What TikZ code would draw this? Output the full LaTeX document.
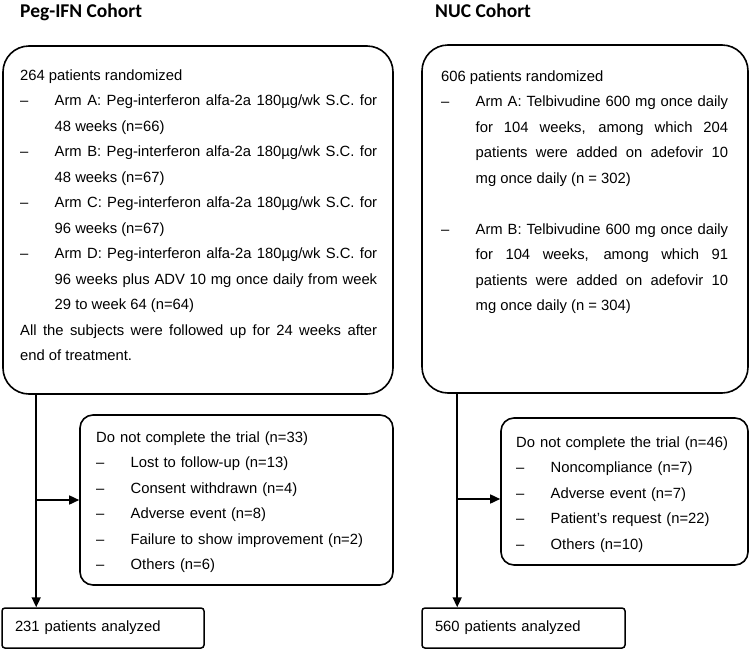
\documentclass[tikz,border=0pt]{standalone}
\usepackage{fontspec}
\setmainfont{Liberation Sans}
\newfontfamily\titlefont{Carlito}
\usetikzlibrary{arrows.meta, positioning}

\newcommand{\bodyfont}{\fontsize{14.8pt}{25.5pt}\selectfont\hyphenpenalty=10000\exhyphenpenalty=10000\tolerance=9999}
\newcommand{\dashitem}[1]{\par\hangindent=34.5pt\hangafter=1\noindent\makebox[34.5pt][l]{–}#1\par}

\begin{document}
\begin{tikzpicture}[
    x=1pt, y=-1pt,
    bigbox/.style={
        rectangle, rounded corners=26pt,
        draw=black, line width=1.6pt,
        minimum height=348pt
    },
    dropbox/.style={
        rectangle, rounded corners=13pt,
        draw=black, line width=1.6pt
    },
    anabox/.style={
        rectangle, rounded corners=3pt,
        draw=black, line width=1.5pt,
        minimum height=40pt, inner xsep=13pt,
        align=left, font=\bodyfont
    },
    bodytext/.style={inner sep=0pt, outer sep=0pt, align=justify, font=\bodyfont},
    droptext/.style={inner sep=0pt, outer sep=0pt, align=left, font=\bodyfont},
    cohort/.style={anchor=base west, inner sep=0pt, font=\titlefont\bfseries\fontsize{19.5pt}{23pt}\selectfont},
    arr/.style={
        -{Triangle[length=10pt,width=9pt]},
        line width=1.6pt
    },
]

\useasboundingbox (0,0) rectangle (750,651);

% TITLES
\node[cohort] (pegtitle) at (20,17) {Peg-IFN Cohort};
\node[cohort] (nuctitle) at (435,17) {NUC Cohort};

% RANDOMIZED
\node[bigbox, minimum width=390pt] (pegrand) at (198,220) {};
\node[bigbox, minimum width=326pt] (nucrand) at (585,219) {};

\node[bodytext, text width=357pt, below right=17.15pt and 18pt of pegrand.north west] (pegrand-txt) {%
\noindent\strut 264 patients randomized
\dashitem{Arm A: Peg-interferon alfa-2a 180µg/wk S.C. for\linebreak 48 weeks (n=66)}
\dashitem{Arm B: Peg-interferon alfa-2a 180µg/wk S.C. for\linebreak 48 weeks (n=67)}
\dashitem{Arm C: Peg-interferon alfa-2a 180µg/wk S.C. for\linebreak 96 weeks (n=67)}
\dashitem{Arm D: Peg-interferon alfa-2a 180µg/wk S.C. for\linebreak 96 weeks plus ADV 10 mg once daily from week\linebreak 29 to week 64 (n=64)}
\par\noindent All the subjects were followed up for 24 weeks after\linebreak end of treatment.};

\node[bodytext, text width=287pt, below right=19.15pt and 20pt of nucrand.north west] (nucrand-txt) {%
\noindent\strut 606 patients randomized
\dashitem{Arm A: Telbivudine 600 mg once daily\linebreak for 104 weeks, among which 204\linebreak patients were added on adefovir 10\linebreak mg once daily (n = 302)}
\noindent\strut
\dashitem{Arm B: Telbivudine 600 mg once daily\linebreak for 104 weeks, among which 91\linebreak patients were added on adefovir 10\linebreak mg once daily (n = 304)}};

% DROP-OUTS
\node[dropbox, minimum width=313pt, minimum height=170pt] (pegdrop) at (236.5,500) {};
\node[dropbox, minimum width=247pt, minimum height=147pt] (nucdrop) at (624.5,491.5) {};

\node[droptext, text width=280pt, below right=10.15pt and 17pt of pegdrop.north west] (pegdrop-txt) {%
\noindent\strut Do not complete the trial (n=33)
\dashitem{Lost to follow-up (n=13)}
\dashitem{Consent withdrawn (n=4)}
\dashitem{Adverse event (n=8)}
\dashitem{Failure to show improvement (n=2)}
\dashitem{Others (n=6)}};

\node[droptext, text width=225pt, below right=12.15pt and 16pt of nucdrop.north west] (nucdrop-txt) {%
\noindent\strut Do not complete the trial (n=46)
\dashitem{Noncompliance (n=7)}
\dashitem{Adverse event (n=7)}
\dashitem{Patient's request (n=22)}
\dashitem{Others (n=10)}};

% ANALYZED
\node[anabox, text width=176pt] (peganal) at (103,628) {231 patients analyzed};
\node[anabox, text width=177pt] (nucanal) at (523.5,628) {560 patients analyzed};

% Connectors
\coordinate (pegstem) at ([xshift=34pt]pegrand.south west);
\coordinate (nucstem) at ([xshift=36pt]nucrand.south west);
\coordinate (nucin) at ([yshift=-7.5pt]nucdrop.west);

\draw[arr] (pegstem) -- (pegstem |- peganal.north);
\draw[arr] (pegstem |- pegdrop.west) -- (pegdrop.west);

\draw[arr] (nucstem) -- (nucstem |- nucanal.north);
\draw[arr] (nucstem |- nucin) -- (nucin);

\end{tikzpicture}
\end{document}
